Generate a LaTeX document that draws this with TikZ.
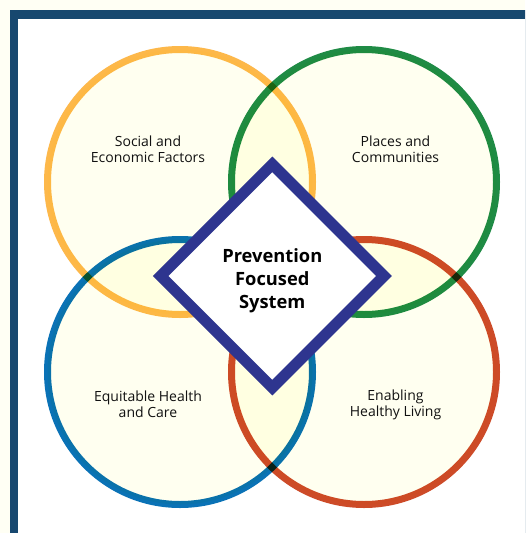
\documentclass[tikz,border=0pt]{standalone}
\usepackage{fontspec}
\usetikzlibrary{calc}
\setmainfont{Open Sans}
\definecolor{pagebg}{HTML}{FFFFF4}
\definecolor{framecol}{HTML}{17486F}
\definecolor{ringfill}{HTML}{FFFFF0}
\definecolor{ringyellow}{HTML}{FDB84A}
\definecolor{ringgreen}{HTML}{1F8B45}
\definecolor{ringblue}{HTML}{0A72B6}
\definecolor{ringred}{HTML}{CD4B28}
\definecolor{diamondcol}{HTML}{2E358F}
\definecolor{textcol}{HTML}{111111}
\begin{document}
\begin{tikzpicture}[x=1pt,y=-1pt,
  ring/.style={circle, line width=7pt, fill=ringfill, minimum size=265pt, inner sep=0pt},
  label/.style={align=center, text=textcol, font=\fontsize{14}{16}\selectfont},
  title/.style={align=center, text=black, font=\bfseries\fontsize{18.3}{23}\selectfont},
  diamondframe/.style={draw=diamondcol, fill=white, line width=11pt, line join=miter}]
\useasboundingbox (0,0) rectangle (525,533);
\clip (0,0) rectangle (525,533);
% page and frame
\fill[pagebg] (0,0) rectangle (525,533);
\fill[framecol] (10,10) rectangle (540,545);
\fill[white] (17.5,19) rectangle (540,545);
% four overlapping rings, multiplied so crossings darken
\begin{scope}[blend group=multiply]
  \node[ring, draw=ringyellow] (social) at (180,182) {};
  \node[ring, draw=ringgreen]  (places) at (364,182) {};
  \node[ring, draw=ringblue]   (equity) at (180,372) {};
  \node[ring, draw=ringred]    (living) at (364,372) {};
\end{scope}
% central diamond
\coordinate (dc) at (272.3,276);
\draw[diamondframe] ($(dc)+(0,-111.7)$) -- ($(dc)+(111.7,0)$) -- ($(dc)+(0,111.7)$) -- ($(dc)+(-111.7,0)$) -- cycle;
\node[title] (core) at (272.3,281) {Prevention\\Focused\\System};
% ring labels
\node[label] (socialtext) at (148,149.5) {Social and\\Economic Factors};
\node[label] (placestext) at (395.5,149.5) {Places and\\Communities};
\node[label] (equitytext) at (148,404.5) {Equitable Health\\and Care};
\node[label] (livingtext) at (395.5,404.5) {Enabling\\Healthy Living};
\end{tikzpicture}
\end{document}
